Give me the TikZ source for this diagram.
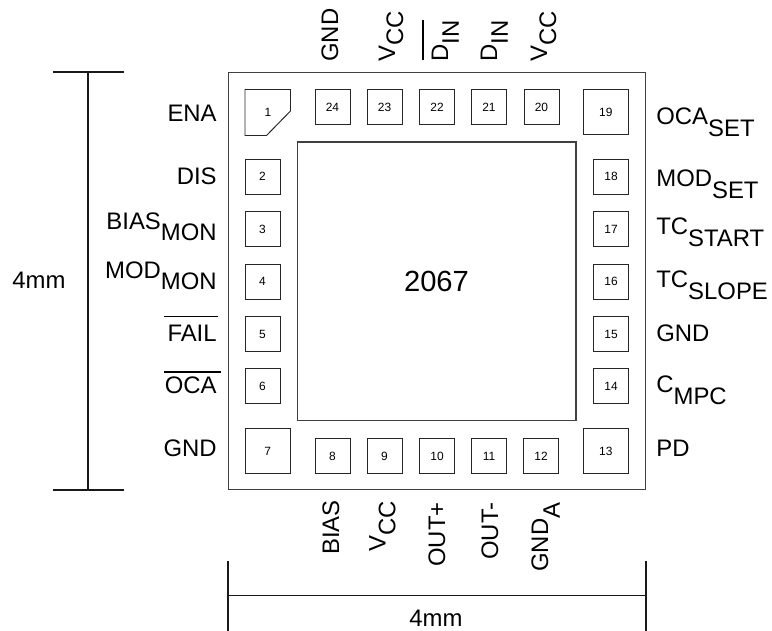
\documentclass[tikz,border=0pt]{standalone}
\usepackage{fontspec}
\setmainfont{Liberation Sans}
\newcommand{\pinsub}[3][0.24cm]{#2\raisebox{-#1}{#3}}
\tikzset{
  pad/.style={draw=black!85,line width=0.55pt,minimum size=0.7cm,inner sep=0pt,font=\fontsize{6.8}{7}\selectfont},
  bigpad/.style={pad,minimum size=0.91cm},
  pinname/.style={inner sep=0pt,font=\fontsize{13.6}{15}\selectfont},
  leftpin/.style={pinname,anchor=base east},
  rightpin/.style={pinname,anchor=base west},
  vertpin/.style={pinname,anchor=base west,rotate=90},
  dimline/.style={line width=0.95pt,black!90}
}
\begin{document}
\begin{tikzpicture}[x=0.02cm,y=-0.02cm]
  \useasboundingbox (0,0) rectangle (772,631);

  % package outline
  \node[draw=black!75,line width=0.6pt,minimum size=8.36cm,inner sep=0pt] (body) at (437,281) {};

  % die
  \node[draw=black!75,line width=0.6pt,minimum size=5.58cm,inner sep=0pt] (die) at (436.5,281.5) {};
  \node[inner sep=0pt,anchor=base,font=\fontsize{16.6}{18}\selectfont] (dielabel) at (436.5,291.7) {2067};

  % pin 1 with cut corner
  \draw[draw=black!85,line width=0.55pt] (245,89.5) -- (290.5,89.5) -- (290.5,111) -- (266.5,135.5) -- (245,135.5) -- cycle;
  \node[inner sep=0pt,font=\fontsize{6.8}{7}\selectfont] (pad1) at (268,112) {1};

  % left pads
  \node[pad] (pad2) at (262.5,176.5) {2};
  \node[pad] (pad3) at (262.5,229) {3};
  \node[pad] (pad4) at (262.5,281.5) {4};
  \node[pad] (pad5) at (262.5,334) {5};
  \node[pad] (pad6) at (262.5,386) {6};
  \node[bigpad] (pad7) at (267.75,451) {7};

  % bottom pads
  \node[pad] (pad8) at (332.5,456) {8};
  \node[pad] (pad9) at (384.5,456) {9};
  \node[pad] (pad10) at (437,456) {10};
  \node[pad] (pad11) at (489,456) {11};
  \node[pad] (pad12) at (541,456) {12};
  \node[bigpad] (pad13) at (605.75,451) {13};

  % right pads
  \node[pad] (pad14) at (611,386) {14};
  \node[pad] (pad15) at (611,334) {15};
  \node[pad] (pad16) at (611,281.5) {16};
  \node[pad] (pad17) at (611,229) {17};
  \node[pad] (pad18) at (611,176.5) {18};
  \node[bigpad] (pad19) at (605.75,112) {19};

  % top pads
  \node[pad] (pad20) at (541.5,107) {20};
  \node[pad] (pad21) at (489,107) {21};
  \node[pad] (pad22) at (437,107) {22};
  \node[pad] (pad23) at (384.5,107) {23};
  \node[pad] (pad24) at (332.5,107) {24};

  % left names
  \node[leftpin] (ena) at (217,121.5) {ENA};
  \node[leftpin] (dis) at (217,184.5) {DIS};
  \node[leftpin] (biasmon) at (217,230) {\pinsub[0.215cm]{BIAS}{MON}};
  \node[leftpin] (modmon) at (217,278.3) {\pinsub[0.215cm]{MOD}{MON}};
  \node[leftpin] (fail) at (217,342) {FAIL};
  \draw[line width=0.6pt] (164,316.7) -- (218,316.7);
  \node[leftpin] (oca) at (217,393.5) {OCA};
  \draw[line width=0.6pt] (164,372) -- (221,372);
  \node[leftpin] (gndleft) at (217,457) {GND};

  % right names
  \node[rightpin] (ocaset) at (656,124.5) {\pinsub{OCA}{SET}};
  \node[rightpin] (modset) at (656,187) {\pinsub{MOD}{SET}};
  \node[rightpin] (tcstart) at (656,235) {\pinsub{TC}{START}};
  \node[rightpin] (tcslope) at (656,287.5) {\pinsub{TC}{SLOPE}};
  \node[rightpin] (gndright) at (656,342) {GND};
  \node[rightpin] (cmpc) at (656,393) {\pinsub{C}{MPC}};
  \node[rightpin] (pd) at (656,457) {PD};

  % top names
  \node[vertpin] (gndtop) at (338,62) {GND};
  \node[vertpin] (vcctopa) at (395,62) {\pinsub[0.165cm]{V}{CC}};
  \node[vertpin] (dinbar) at (448,62) {\pinsub[0.22cm]{D}{IN}};
  \draw[line width=0.6pt] (423,20) -- (423,60.5);
  \node[vertpin] (din) at (497,62) {\pinsub[0.22cm]{D}{IN}};
  \node[vertpin] (vcctopb) at (547,62) {\pinsub[0.18cm]{V}{CC}};

  % bottom names
  \node[vertpin] (bias) at (339,555) {BIAS};
  \node[vertpin] (vccbot) at (385.5,552) {\pinsub[0.2cm]{V}{CC}};
  \node[vertpin] (outp) at (445,567) {OUT+};
  \node[vertpin] (outm) at (498,560) {OUT-};
  \node[vertpin] (gnda) at (548,572) {\pinsub{GND}{A}};

  % 4mm on the left
  \coordinate (dimlt) at (88.3,72);
  \coordinate (dimlb) at (88.3,490);
  \coordinate (ticklta) at (53,72);
  \coordinate (tickltb) at (124,72);
  \coordinate (ticklba) at (53,490);
  \coordinate (ticklbb) at (124,490);
  \draw[dimline] (dimlt) -- (dimlb);
  \draw[dimline] (ticklta) -- (tickltb);
  \draw[dimline] (ticklba) -- (ticklbb);
  \node[pinname,anchor=base] (dimleft) at (39,289) {4mm};

  % 4mm at the bottom
  \coordinate (dimbl) at (228,595.5);
  \coordinate (dimbr) at (646,595.5);
  \coordinate (tickbla) at (228,561);
  \coordinate (tickblb) at (228,631);
  \coordinate (tickbra) at (646,561);
  \coordinate (tickbrb) at (646,631);
  \draw[dimline] (dimbl) -- (dimbr);
  \draw[dimline] (tickbla) -- (tickblb);
  \draw[dimline] (tickbra) -- (tickbrb);
  \node[pinname,anchor=base] (dimbottom) at (436,627) {4mm};
\end{tikzpicture}
\end{document}
